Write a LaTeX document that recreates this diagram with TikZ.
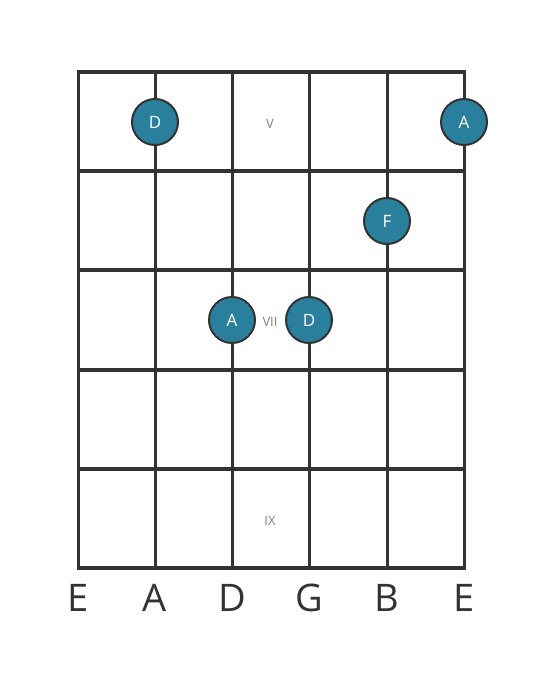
\documentclass[tikz,border=0pt]{standalone}
\usepackage{fontspec}
\setmainfont{Open Sans}
\definecolor{ln}{HTML}{333333}
\definecolor{dotc}{HTML}{2A7F9C}
\definecolor{mk}{HTML}{808080}
\begin{document}
\begin{tikzpicture}[x=1pt,y=-1pt,
  fret/.style={draw=ln,line width=4.5pt},
  str/.style={draw=ln,line width=3pt},
  note/.style={circle,fill=dotc,draw=ln,line width=2pt,minimum size=46pt,inner sep=0pt,text=white,font=\fontsize{17}{17}\selectfont},
  fmark/.style={text=mk,font=\fontsize{13}{13}\selectfont},
  sname/.style={text=ln,font=\fontsize{38}{38}\selectfont}]
\useasboundingbox (0,0) rectangle (559,682);
% strings
\foreach \x/\n in {78/s1,155/s2,232/s3,309/s4,387/s5,464/s6} {
  \coordinate (\n t) at (\x,72);
  \coordinate (\n b) at (\x,568);
  \draw[str] (\n t) -- (\n b);
}
% frets
\foreach \y/\n in {72/f0,171/f1,270/f2,370/f3,469/f4,568/f5} {
  \coordinate (\n l) at (76.5,\y);
  \coordinate (\n r) at (465.5,\y);
  \draw[fret] (\n l) -- (\n r);
}
% fret markers
\node[fmark] (m5) at (270,123.5) {V};
\node[fmark] (m7) at (270,321.5) {VII};
\node[fmark] (m9) at (270,520.5) {IX};
% notes
\node[note] (n1) at (155,122) {D};
\node[note] (n2) at (464,122) {A};
\node[note] (n3) at (387,221) {F};
\node[note] (n4) at (232,320) {A};
\node[note] (n5) at (309,320) {D};
% string names
\node[sname] (l1) at (78,598) {E};
\node[sname] (l2) at (155,598) {A};
\node[sname] (l3) at (232,598) {D};
\node[sname] (l4) at (309,598) {G};
\node[sname] (l5) at (387,598) {B};
\node[sname] (l6) at (464,598) {E};
\end{tikzpicture}
\end{document}
